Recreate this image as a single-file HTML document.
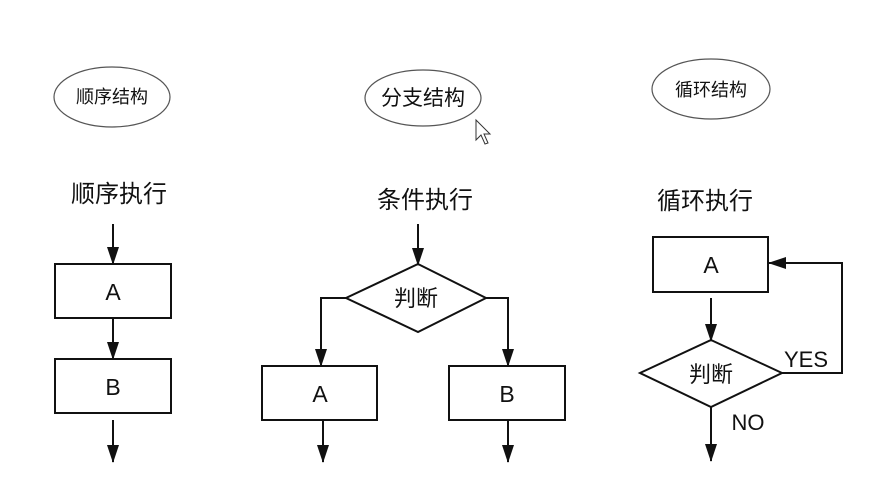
<!DOCTYPE html>
<html><head><meta charset="utf-8"><style>
html,body{margin:0;padding:0;background:#fff;}
svg{display:block;}
text{font-family:"Liberation Sans","Noto Sans CJK SC",sans-serif;fill:#111;}
</style></head><body>
<svg width="891" height="489" viewBox="0 0 891 489" xmlns="http://www.w3.org/2000/svg">
<defs>
<marker id="ar" markerWidth="18" markerHeight="12" refX="17" refY="6" orient="auto" markerUnits="userSpaceOnUse" viewBox="0 0 18 12">
<path d="M0,0 L18,6 L0,12 Z" fill="#111"/>
</marker>
</defs>
<g fill="none" stroke="#555" stroke-width="1.2">
<ellipse cx="112" cy="97" rx="58" ry="30"/>
<ellipse cx="423" cy="98" rx="58" ry="28"/>
<ellipse cx="711" cy="89" rx="59" ry="30"/>
</g>
<g font-size="18" text-anchor="middle">
<text x="112" y="103">顺序结构</text>
<text x="423" y="105" font-size="21">分支结构</text>
<text x="711" y="96">循环结构</text>
</g>
<g font-size="24" text-anchor="middle">
<text x="119" y="202">顺序执行</text>
<text x="425" y="208">条件执行</text>
<text x="705" y="209">循环执行</text>
</g>
<g stroke="#111" stroke-width="2" fill="none">
<line x1="113" y1="224" x2="113" y2="264" marker-end="url(#ar)"/>
<rect x="55" y="264" width="116" height="54"/>
<line x1="113" y1="318" x2="113" y2="359" marker-end="url(#ar)"/>
<rect x="55" y="359" width="116" height="54"/>
<line x1="113" y1="420" x2="113" y2="462" marker-end="url(#ar)"/>
<line x1="418" y1="224" x2="418" y2="265" marker-end="url(#ar)"/>
<polygon points="418,264 486,298 418,332 346,298"/>
<polyline points="346,298 321,298 321,366" marker-end="url(#ar)"/>
<polyline points="486,298 508,298 508,366" marker-end="url(#ar)"/>
<rect x="262" y="366" width="115" height="54"/>
<rect x="449" y="366" width="116" height="54"/>
<line x1="323" y1="420" x2="323" y2="462" marker-end="url(#ar)"/>
<line x1="508" y1="420" x2="508" y2="462" marker-end="url(#ar)"/>
<rect x="653" y="237" width="115" height="55"/>
<line x1="711" y1="298" x2="711" y2="341" marker-end="url(#ar)"/>
<polygon points="711,340 782,373 711,407 640,373"/>
<polyline points="782,373 842,373 842,263 769,263" marker-end="url(#ar)"/>
<line x1="711" y1="407" x2="711" y2="461" marker-end="url(#ar)"/>
</g>
<g font-size="23" text-anchor="middle">
<text x="113" y="300">A</text>
<text x="113" y="395">B</text>
<text x="320" y="402">A</text>
<text x="507" y="402">B</text>
<text x="711" y="273">A</text>
</g>
<g font-size="22" text-anchor="middle">
<text x="416" y="306">判断</text>
<text x="711" y="382">判断</text>
</g>
<text x="806" y="367" font-size="22" text-anchor="middle">YES</text>
<text x="748" y="430" font-size="22" text-anchor="middle">NO</text>
<path d="M476,120 L476,140 L481,135 L485,144 L488,143 L484,134 L490,134 Z" fill="#fff" stroke="#333" stroke-width="1"/>
</svg>
</body></html>
